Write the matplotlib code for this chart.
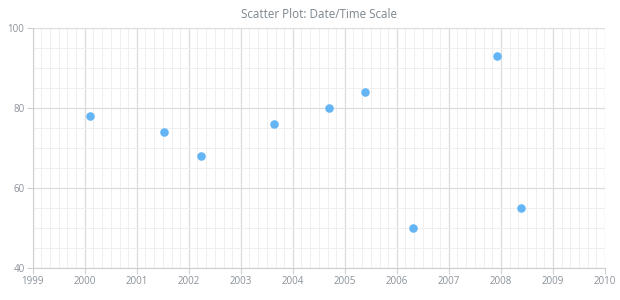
import datetime as dt

import matplotlib
matplotlib.use("Agg")
import matplotlib.dates as mdates
import matplotlib.pyplot as plt
from matplotlib.ticker import MultipleLocator

dates = ["2000-02-05", "2001-07-08", "2002-03-25", "2003-08-18", "2004-09-08",
         "2005-05-18", "2006-04-22", "2007-12-02", "2008-05-18"]
values = [78, 74, 68, 76, 80, 84, 50, 93, 55]

x_dates = [dt.datetime.strptime(d, "%Y-%m-%d") for d in dates]

plt.rcParams["font.family"] = ["Open Sans", "DejaVu Sans"]

fig = plt.figure(figsize=(6.2, 3.0), dpi=100)
ax = fig.add_axes([0.053, 0.107, 0.923, 0.8])

ax.scatter(x_dates, values, s=38, color="#64b5f6", zorder=3, linewidths=0)

ax.set_xlim(dt.datetime(1999, 1, 1), dt.datetime(2010, 1, 1))
ax.set_ylim(40, 100)

ax.xaxis.set_major_locator(mdates.YearLocator())
ax.xaxis.set_major_formatter(mdates.DateFormatter("%Y"))
ax.xaxis.set_minor_locator(mdates.MonthLocator(bymonth=[3, 5, 7, 9, 11]))
ax.yaxis.set_major_locator(MultipleLocator(20))
ax.yaxis.set_minor_locator(MultipleLocator(5))

ax.grid(True, which="major", color="#dcdcdc", linewidth=0.9)
ax.grid(True, which="minor", color="#efefef", linewidth=0.7)
ax.set_axisbelow(True)

for side in ["top", "right"]:
    ax.spines[side].set_visible(False)
for side in ["left", "bottom"]:
    ax.spines[side].set_color("#cfcfcf")

ax.tick_params(which="major", length=4, color="#cfcfcf", labelsize=7, labelcolor="#8a9199", pad=2)
ax.tick_params(which="minor", length=0)

ax.set_title("Scatter Plot: Date/Time Scale", fontsize=8.4, color="#7c868e", pad=7)

fig.savefig("out.png", dpi=100)
